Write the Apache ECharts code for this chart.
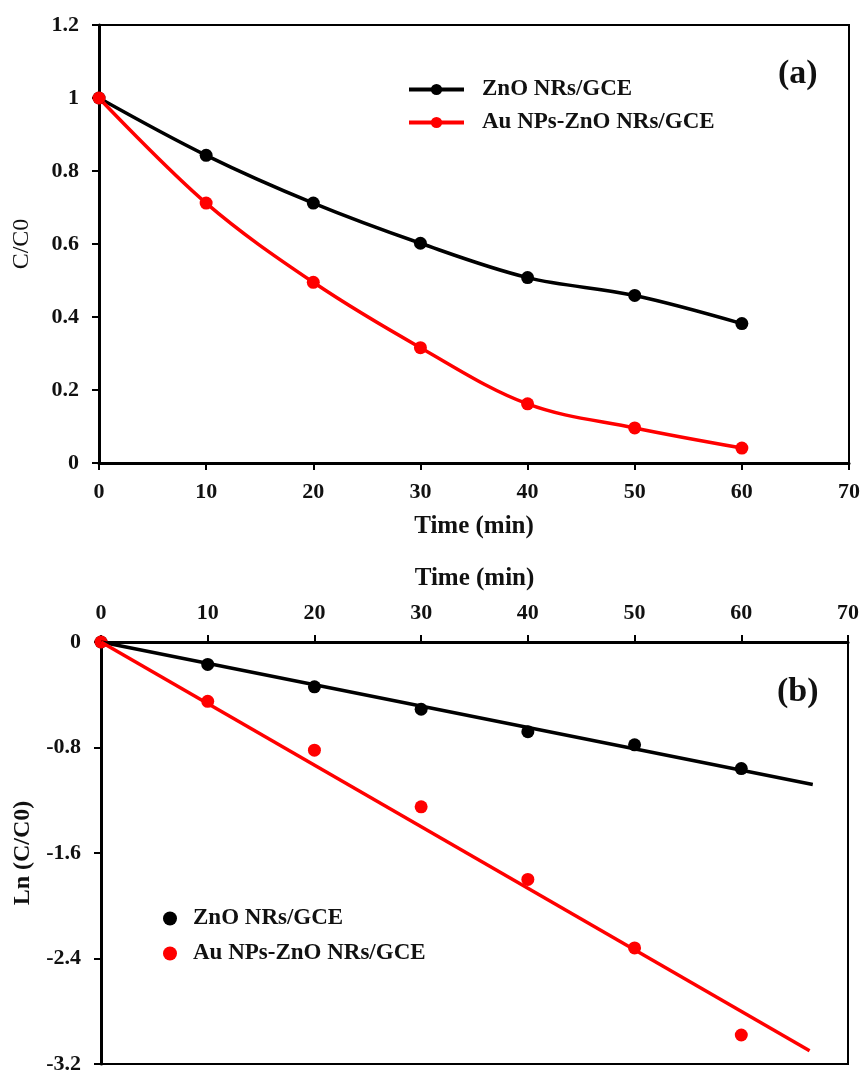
<!DOCTYPE html>
<html>
<head>
<meta charset="utf-8">
<script src="https://cdn.jsdelivr.net/npm/echarts@6/dist/echarts.min.js"></script>
<style>
    html, body { margin: 0; padding: 0; background: #fff; }
    #chart { width: 863px; height: 1075px; }
</style>
</head>
<body>
<div id="chart"></div>
<script>
// ---- data ----
const timeMin = [0, 10, 20, 30, 40, 50, 60];

// (a) C/C0 vs time
const znoRatio = [1, 0.843, 0.712, 0.602, 0.508, 0.459, 0.382];
const auZnoRatio = [1, 0.712, 0.495, 0.316, 0.162, 0.096, 0.041];

// (b) Ln(C/C0) vs time
const znoLn = [0, -0.17, -0.34, -0.51, -0.68, -0.78, -0.96];
const auZnoLn = [0, -0.45, -0.82, -1.25, -1.80, -2.32, -2.98];

// linear fit lines, end points as drawn
const znoFit = [[0, 0], [66.7, -1.08]];
const auZnoFit = [[0, 0], [66.4, -3.10]];

const seriesNames = ['ZnO NRs/GCE', 'Au NPs-ZnO NRs/GCE'];
const xTicks = {min: 0, max: 70, interval: 10};
const yTicksA = {min: 0, max: 1.2, interval: 0.2};
const yTicksB = {min: -3.2, max: 0, interval: 0.8};

const FONT = 'Liberation Serif';
const BLACK = '#000000';
const RED = '#ff0000';

const pairs = (xs, ys) => xs.map((x, i) => [x, ys[i]]);

const tickLabel = {
    fontFamily: FONT, fontWeight: 'bold', fontSize: 22, color: '#111'
};
const axisLine = {show: true, onZero: false, lineStyle: {color: BLACK, width: 3}};
const axisTick = {show: true, inside: false, length: 7, lineStyle: {color: BLACK, width: 2}};

const chart = echarts.init(document.getElementById('chart'), null, {renderer: 'canvas'});

const options = {
    backgroundColor: '#fff',
    animation: false,
    grid: [
        {left: 99, top: 25, width: 752, height: 438, show: true, borderColor: BLACK, borderWidth: 2},
        {left: 101, top: 642, width: 747, height: 424, show: true, borderColor: BLACK, borderWidth: 2}
    ],
    xAxis: [
        {
            gridIndex: 0, type: 'value', position: 'bottom',
            min: xTicks.min, max: xTicks.max, interval: xTicks.interval,
            axisLine: axisLine, axisTick: axisTick, splitLine: {show: false},
            axisLabel: Object.assign({margin: 18}, tickLabel),
            name: 'Time (min)', nameLocation: 'middle', nameGap: 51,
            nameTextStyle: {fontFamily: FONT, fontWeight: 'bold', fontSize: 25, color: '#111'}
        },
        {
            gridIndex: 1, type: 'value', position: 'top',
            min: xTicks.min, max: xTicks.max, interval: xTicks.interval,
            axisLine: axisLine, axisTick: axisTick, splitLine: {show: false},
            axisLabel: Object.assign({margin: 18}, tickLabel),
            name: 'Time (min)', nameLocation: 'middle', nameGap: 51,
            nameTextStyle: {fontFamily: FONT, fontWeight: 'bold', fontSize: 25, color: '#111'}
        }
    ],
    yAxis: [
        {
            gridIndex: 0, type: 'value',
            min: yTicksA.min, max: yTicksA.max, interval: yTicksA.interval,
            axisLine: axisLine, axisTick: axisTick, splitLine: {show: false},
            axisLabel: Object.assign({margin: 20}, tickLabel),
            name: 'C/C0', nameLocation: 'middle', nameGap: 65,
            nameTextStyle: {fontFamily: FONT, fontWeight: 'normal', fontSize: 24, color: '#111'}
        },
        {
            gridIndex: 1, type: 'value',
            min: yTicksB.min, max: yTicksB.max, interval: yTicksB.interval,
            axisLine: axisLine, axisTick: axisTick, splitLine: {show: false},
            axisLabel: Object.assign({margin: 20}, tickLabel),
            name: 'Ln (C/C0)', nameLocation: 'middle', nameGap: 66,
            nameTextStyle: {fontFamily: FONT, fontWeight: 'bold', fontSize: 24, color: '#111'}
        }
    ],
    legend: [
        {
            data: seriesNames,
            left: 407, top: 78, orient: 'vertical', padding: 0,
            itemWidth: 55, itemHeight: 14, itemGap: 10,
            lineStyle: {width: 4},
            textStyle: {fontFamily: FONT, fontWeight: 'bold', fontSize: 23, color: '#111', padding: [0, 0, 0, 13]},
            selectedMode: false
        },
        {
            data: seriesNames.map(n => ({name: n, icon: 'circle'})),
            left: 163, top: 907, orient: 'vertical', padding: 0,
            itemWidth: 14, itemHeight: 14, itemGap: 12,
            textStyle: {fontFamily: FONT, fontWeight: 'bold', fontSize: 23, color: '#111', padding: [0, 0, 0, 11]},
            selectedMode: false
        }
    ],
    graphic: [
        {type: 'text', left: 778, top: 57, style: {text: '(a)', font: 'bold 34px "Liberation Serif"', fill: '#111'}},
        {type: 'text', left: 777, top: 675, style: {text: '(b)', font: 'bold 34px "Liberation Serif"', fill: '#111'}}
    ],
    series: [
        {
            name: seriesNames[0], type: 'line', xAxisIndex: 0, yAxisIndex: 0,
            data: pairs(timeMin, znoRatio), smooth: 0.35,
            symbol: 'circle', symbolSize: 13, showSymbol: true,
            color: BLACK, lineStyle: {color: BLACK, width: 3.5}
        },
        {
            name: seriesNames[1], type: 'line', xAxisIndex: 0, yAxisIndex: 0,
            data: pairs(timeMin, auZnoRatio), smooth: 0.35,
            symbol: 'circle', symbolSize: 13, showSymbol: true,
            color: RED, lineStyle: {color: RED, width: 3.5}
        },
        {
            name: 'ZnO fit', type: 'line', xAxisIndex: 1, yAxisIndex: 1,
            data: znoFit, showSymbol: false, symbol: 'none',
            color: BLACK, lineStyle: {color: BLACK, width: 3.5}
        },
        {
            name: 'Au fit', type: 'line', xAxisIndex: 1, yAxisIndex: 1,
            data: auZnoFit, showSymbol: false, symbol: 'none',
            color: RED, lineStyle: {color: RED, width: 3.5}
        },
        {
            name: seriesNames[0], type: 'scatter', xAxisIndex: 1, yAxisIndex: 1,
            data: pairs(timeMin, znoLn), symbol: 'circle', symbolSize: 13,
            color: BLACK, itemStyle: {opacity: 1}
        },
        {
            name: seriesNames[1], type: 'scatter', xAxisIndex: 1, yAxisIndex: 1,
            data: pairs(timeMin, auZnoLn), symbol: 'circle', symbolSize: 13,
            color: RED, itemStyle: {opacity: 1}
        }
    ]
};

chart.setOption(options);
</script>
</body>
</html>
